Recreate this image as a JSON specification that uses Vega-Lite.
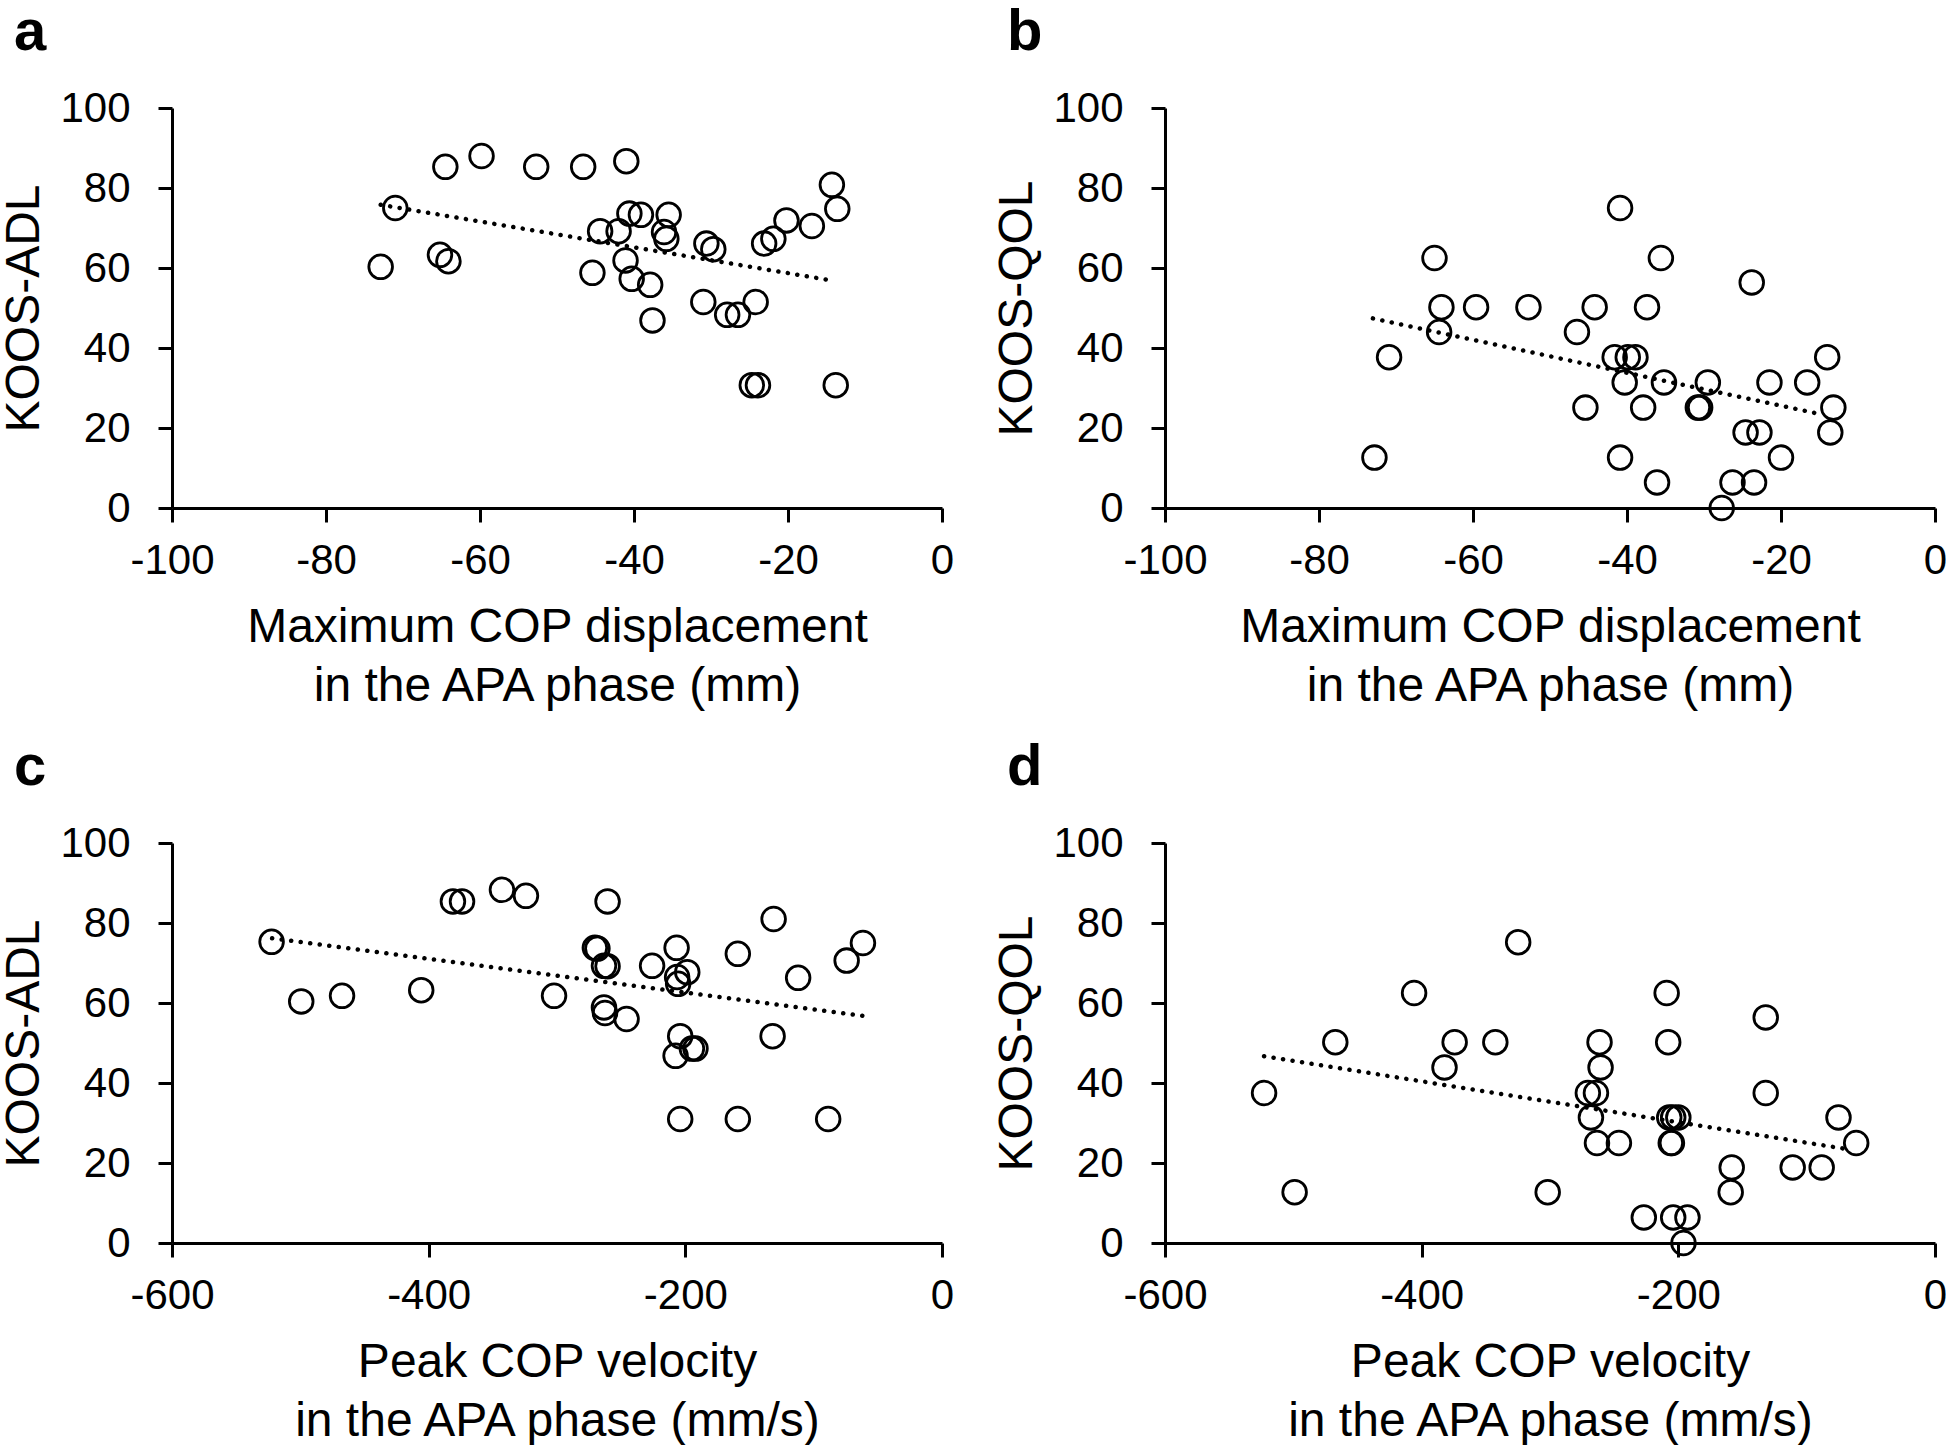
{
  "$schema": "https://vega.github.io/schema/vega-lite/v6.json",
  "autosize": {"type": "pad"},
  "padding": {"left": 0, "top": 4, "right": 0, "bottom": 0},
  "background": "white",
  "bounds": "flush",
  "columns": 2,
  "spacing": {"row": 335, "column": 223},
  "datasets": {
    "a": [
      {"x": -71.0, "y": 75.0}, {"x": -72.9, "y": 60.3}, {"x": -64.5, "y": 85.3}, {"x": -59.8, "y": 88.0},
      {"x": -52.7, "y": 85.3}, {"x": -46.6, "y": 85.3}, {"x": -41.0, "y": 86.7}, {"x": -65.2, "y": 63.3},
      {"x": -64.1, "y": 61.7}, {"x": -45.4, "y": 58.8}, {"x": -44.4, "y": 69.2}, {"x": -42.0, "y": 69.2},
      {"x": -40.6, "y": 73.6}, {"x": -39.1, "y": 73.3}, {"x": -35.5, "y": 73.3}, {"x": -36.1, "y": 69.0},
      {"x": -35.8, "y": 67.3}, {"x": -41.1, "y": 61.9}, {"x": -40.3, "y": 57.3}, {"x": -37.9, "y": 55.8},
      {"x": -37.6, "y": 46.9}, {"x": -30.6, "y": 66.1}, {"x": -29.7, "y": 64.7}, {"x": -31.0, "y": 51.5},
      {"x": -27.9, "y": 48.3}, {"x": -26.5, "y": 48.3}, {"x": -24.2, "y": 51.5}, {"x": -23.1, "y": 66.1},
      {"x": -21.9, "y": 67.3}, {"x": -20.2, "y": 71.9}, {"x": -16.9, "y": 70.5}, {"x": -14.3, "y": 80.8},
      {"x": -13.6, "y": 74.8}, {"x": -24.7, "y": 30.7}, {"x": -23.9, "y": 30.7}, {"x": -13.8, "y": 30.7}
    ],
    "ta": [{"x": -72.9, "y": 75.8}, {"x": -13.9, "y": 56.75}],
    "b": [
      {"x": -40.9, "y": 75.0}, {"x": -65.0, "y": 62.5}, {"x": -35.6, "y": 62.5}, {"x": -23.8, "y": 56.4},
      {"x": -64.1, "y": 50.2}, {"x": -59.6, "y": 50.2}, {"x": -52.8, "y": 50.2}, {"x": -44.2, "y": 50.2},
      {"x": -37.4, "y": 50.2}, {"x": -64.4, "y": 44.0}, {"x": -46.5, "y": 44.0}, {"x": -70.9, "y": 37.7},
      {"x": -41.6, "y": 37.7}, {"x": -39.9, "y": 37.7}, {"x": -38.9, "y": 37.7}, {"x": -14.0, "y": 37.7},
      {"x": -40.3, "y": 31.4}, {"x": -35.2, "y": 31.4}, {"x": -29.5, "y": 31.4}, {"x": -21.5, "y": 31.4},
      {"x": -16.6, "y": 31.4}, {"x": -45.4, "y": 25.1}, {"x": -37.9, "y": 25.1}, {"x": -30.8, "y": 25.1},
      {"x": -30.5, "y": 25.1}, {"x": -13.2, "y": 25.1}, {"x": -24.6, "y": 18.9}, {"x": -22.8, "y": 18.9},
      {"x": -13.6, "y": 18.9}, {"x": -72.8, "y": 12.6}, {"x": -40.9, "y": 12.6}, {"x": -20.0, "y": 12.6},
      {"x": -36.1, "y": 6.4}, {"x": -26.3, "y": 6.4}, {"x": -23.5, "y": 6.4}, {"x": -27.7, "y": 0.0}
    ],
    "tb": [{"x": -73.0, "y": 47.4}, {"x": -14.5, "y": 23.3}],
    "c": [
      {"x": -522.4, "y": 75.3}, {"x": -499.3, "y": 60.4}, {"x": -467.5, "y": 61.8}, {"x": -405.8, "y": 63.2},
      {"x": -381.1, "y": 85.4}, {"x": -374.0, "y": 85.4}, {"x": -342.9, "y": 88.3}, {"x": -324.2, "y": 86.8},
      {"x": -302.3, "y": 61.8}, {"x": -260.6, "y": 85.4}, {"x": -270.5, "y": 73.8}, {"x": -268.5, "y": 73.6},
      {"x": -263.4, "y": 69.3}, {"x": -260.6, "y": 69.2}, {"x": -263.4, "y": 58.9}, {"x": -262.6, "y": 57.5},
      {"x": -245.8, "y": 56.0}, {"x": -225.9, "y": 69.3}, {"x": -206.8, "y": 73.8}, {"x": -206.4, "y": 66.5},
      {"x": -198.5, "y": 67.7}, {"x": -205.6, "y": 64.8}, {"x": -204.0, "y": 51.7}, {"x": -207.6, "y": 46.8},
      {"x": -194.9, "y": 48.6}, {"x": -192.1, "y": 48.6}, {"x": -204.0, "y": 31.0}, {"x": -159.1, "y": 72.3},
      {"x": -131.2, "y": 81.0}, {"x": -112.1, "y": 66.3}, {"x": -132.0, "y": 51.7}, {"x": -159.1, "y": 31.0},
      {"x": -88.7, "y": 31.0}, {"x": -74.3, "y": 70.6}, {"x": -61.6, "y": 75.0}
    ],
    "tc": [{"x": -522.0, "y": 76.2}, {"x": -61.6, "y": 56.8}],
    "d": [
      {"x": -324.8, "y": 75.2}, {"x": -405.9, "y": 62.5}, {"x": -209.1, "y": 62.5}, {"x": -131.9, "y": 56.4},
      {"x": -467.3, "y": 50.2}, {"x": -374.3, "y": 50.2}, {"x": -342.6, "y": 50.2}, {"x": -261.4, "y": 50.2},
      {"x": -207.9, "y": 50.2}, {"x": -382.2, "y": 43.9}, {"x": -260.6, "y": 43.9}, {"x": -522.8, "y": 37.5},
      {"x": -270.5, "y": 37.5}, {"x": -264.2, "y": 37.5}, {"x": -131.9, "y": 37.5}, {"x": -268.1, "y": 31.4},
      {"x": -207.1, "y": 31.4}, {"x": -200.0, "y": 31.4}, {"x": -204.0, "y": 31.4}, {"x": -75.2, "y": 31.4},
      {"x": -263.4, "y": 25.0}, {"x": -246.3, "y": 25.0}, {"x": -205.9, "y": 25.0}, {"x": -205.0, "y": 25.0},
      {"x": -61.4, "y": 25.0}, {"x": -158.4, "y": 18.9}, {"x": -110.9, "y": 18.9}, {"x": -88.3, "y": 18.9},
      {"x": -499.0, "y": 12.7}, {"x": -301.8, "y": 12.7}, {"x": -159.2, "y": 12.7}, {"x": -226.9, "y": 6.4},
      {"x": -204.0, "y": 6.4}, {"x": -192.9, "y": 6.4}, {"x": -196.0, "y": 0.0}
    ],
    "td": [{"x": -522.8, "y": 46.7}, {"x": -65.3, "y": 23.3}]
  },
  "config": {
    "font": "Liberation Sans",
    "view": {"stroke": null},
    "axis": {
      "grid": false,
      "domainColor": "black",
      "domainWidth": 3,
      "tickColor": "black",
      "tickWidth": 3,
      "tickSize": 14,
      "labelFont": "Liberation Sans",
      "labelFontSize": 42,
      "labelColor": "black",
      "labelOverlap": false,
      "labelFlush": false,
      "labelBound": false,
      "titleFont": "Liberation Sans",
      "titleFontSize": 48,
      "titleFontWeight": "normal",
      "titleColor": "black",
      "labelExpr": "'' + datum.value"
    },
    "axisX": {"labelPadding": 18, "titlePadding": 22, "titleLineHeight": 59},
    "axisY": {"labelPadding": 28, "titlePadding": 11},
    "title": {"anchor": "start", "frame": "group", "font": "Liberation Sans", "fontSize": 58, "fontWeight": "bold", "color": "black", "dx": -158, "offset": 25},
    "point": {"shape": "circle", "filled": false, "color": "black", "strokeWidth": 2.8, "size": 560, "opacity": 1},
    "line": {"color": "black", "strokeWidth": 4.5, "strokeCap": "round", "strokeDash": [0.1, 9.5]}
  },
  "concat": [
    {
      "width": 770, "height": 400,
      "title": {"text": "a"},
      "layer": [
        {
          "data": {"name": "a"},
          "mark": "point",
          "encoding": {
            "x": {"field": "x", "type": "quantitative", "scale": {"domain": [-100, 0], "nice": false, "zero": false},
                  "axis": {"values": [-100, -80, -60, -40, -20, 0], "title": ["Maximum COP displacement", "in the APA phase (mm)"]}},
            "y": {"field": "y", "type": "quantitative", "scale": {"domain": [0, 100], "nice": false},
                  "axis": {"values": [0, 20, 40, 60, 80, 100], "title": "KOOS-ADL"}}
          }
        },
        {
          "data": {"name": "ta"},
          "mark": "line",
          "encoding": {"x": {"field": "x", "type": "quantitative"}, "y": {"field": "y", "type": "quantitative"}}
        }
      ]
    },
    {
      "width": 770, "height": 400,
      "title": {"text": "b"},
      "layer": [
        {
          "data": {"name": "b"},
          "mark": "point",
          "encoding": {
            "x": {"field": "x", "type": "quantitative", "scale": {"domain": [-100, 0], "nice": false, "zero": false},
                  "axis": {"values": [-100, -80, -60, -40, -20, 0], "title": ["Maximum COP displacement", "in the APA phase (mm)"]}},
            "y": {"field": "y", "type": "quantitative", "scale": {"domain": [0, 100], "nice": false},
                  "axis": {"values": [0, 20, 40, 60, 80, 100], "title": "KOOS-QOL"}}
          }
        },
        {
          "data": {"name": "tb"},
          "mark": "line",
          "encoding": {"x": {"field": "x", "type": "quantitative"}, "y": {"field": "y", "type": "quantitative"}}
        }
      ]
    },
    {
      "width": 770, "height": 400,
      "title": {"text": "c"},
      "layer": [
        {
          "data": {"name": "c"},
          "mark": "point",
          "encoding": {
            "x": {"field": "x", "type": "quantitative", "scale": {"domain": [-600, 0], "nice": false, "zero": false},
                  "axis": {"values": [-600, -400, -200, 0], "title": ["Peak COP velocity", "in the APA phase (mm/s)"]}},
            "y": {"field": "y", "type": "quantitative", "scale": {"domain": [0, 100], "nice": false},
                  "axis": {"values": [0, 20, 40, 60, 80, 100], "title": "KOOS-ADL"}}
          }
        },
        {
          "data": {"name": "tc"},
          "mark": "line",
          "encoding": {"x": {"field": "x", "type": "quantitative"}, "y": {"field": "y", "type": "quantitative"}}
        }
      ]
    },
    {
      "width": 770, "height": 400,
      "title": {"text": "d"},
      "layer": [
        {
          "data": {"name": "d"},
          "mark": "point",
          "encoding": {
            "x": {"field": "x", "type": "quantitative", "scale": {"domain": [-600, 0], "nice": false, "zero": false},
                  "axis": {"values": [-600, -400, -200, 0], "title": ["Peak COP velocity", "in the APA phase (mm/s)"]}},
            "y": {"field": "y", "type": "quantitative", "scale": {"domain": [0, 100], "nice": false},
                  "axis": {"values": [0, 20, 40, 60, 80, 100], "title": "KOOS-QOL"}}
          }
        },
        {
          "data": {"name": "td"},
          "mark": "line",
          "encoding": {"x": {"field": "x", "type": "quantitative"}, "y": {"field": "y", "type": "quantitative"}}
        }
      ]
    }
  ]
}
